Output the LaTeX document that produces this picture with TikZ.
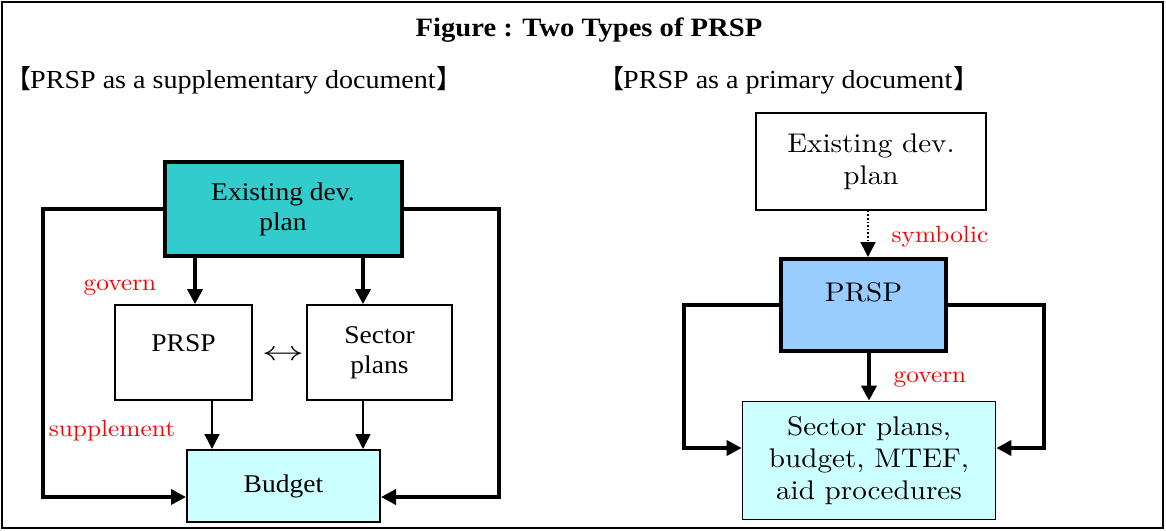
\documentclass[tikz,border=0pt]{standalone}
\usepackage{fontspec}
\setmainfont[FakeStretch=1.08]{Liberation Serif}
\newfontfamily\cent[FakeStretch=1.08,Extension=.otf]{lmroman10-regular}
\newfontfamily\cjk{Noto Sans CJK JP}
\usetikzlibrary{arrows.meta}
\definecolor{planteal}{HTML}{33CCCC}
\definecolor{paleblue}{HTML}{CCFFFF}
\definecolor{prspblue}{HTML}{99CCFF}
\newcommand*\tnr{\fontsize{25.5}{30}\selectfont}
\newcommand*\cnt{\cent\fontsize{27}{32}\selectfont}
\newcommand*\lbl{\cent\fontsize{23.5}{27}\selectfont}
\newcommand*\hdr{\fontsize{26}{30}\selectfont}
\newcommand*\lbr{{\cjk 【}\kern-1pt}
\newcommand*\rbr{\kern1pt{\cjk 】}}

\begin{document}
\begin{tikzpicture}[x=1pt,y=-1pt,
  box/.style={draw,inner sep=0pt,align=center,line width=1.7pt},
  thickbox/.style={draw,inner sep=0pt,align=center,line width=4pt},
  tip/.style={-{Triangle[length=15pt,width=15pt]}},
  heavy/.style={tip,line width=3.6pt},
  light/.style={tip,line width=1.6pt},
  redlbl/.style={text=red,font=\lbl}]
\useasboundingbox (0,0) rectangle (1166,530);
\draw[line width=1.5pt] (2,2) rectangle (1163,528);

\node[font=\bfseries\fontsize{26.5}{30}\selectfont] (title) at (589,30) {Figure : Two Types of PRSP};
\node[anchor=west,inner sep=0pt,font=\hdr] (head1) at (5,80) {\lbr PRSP as a supplementary document\rbr};
\node[anchor=west,inner sep=0pt,font=\hdr] (head2) at (598,80) {\lbr PRSP as a primary document\rbr};

% supplementary document
\node[thickbox,fill=planteal,minimum width=237pt,minimum height=94pt,font=\tnr] (plan1) at (283,209) {Existing dev.\\plan};
\node[box,minimum width=137pt,minimum height=95pt,font=\tnr,text height=17pt,text depth=20pt] (prsp1) at (183.5,352.5) {PRSP};
\node[box,minimum width=145pt,minimum height=95pt,font=\tnr] (sect1) at (379.5,352.5) {Sector\\plans};
\node[box,fill=paleblue,line width=2pt,minimum width=193pt,minimum height=72pt,font=\tnr] (budget) at (283.5,486) {Budget};
\node[font=\fontsize{24}{28}\selectfont] (both) at (283,355) {\scalebox{1.7}[1.1]{$\leftrightarrow$}};
\node[redlbl] (gov1) at (120,288) {govern};
\node[redlbl] (supp) at (112,431) {supplement};
\coordinate (lft1) at (43,0);
\coordinate (rgt1) at (499,0);

\draw[heavy] ([xshift=11.5pt]prsp1.north |- plan1.south) -- ([xshift=11.5pt]prsp1.north);
\draw[heavy] ([xshift=-16.5pt]sect1.north |- plan1.south) -- ([xshift=-16.5pt]sect1.north);
\draw[light] ([xshift=28.5pt]prsp1.south) -- ([xshift=28.5pt]prsp1.south |- budget.north);
\draw[light] ([xshift=-16.5pt]sect1.south) -- ([xshift=-16.5pt]sect1.south |- budget.north);
\draw[heavy] (plan1.west) -- (plan1.west -| lft1) |- ([yshift=-11pt]budget.west);
\draw[heavy] (plan1.east) -- (plan1.east -| rgt1) |- ([yshift=-11pt]budget.east);

% primary document
\node[box,fill=white,minimum width=230pt,minimum height=97pt,font=\cnt] (plan2) at (871,161.5) {Existing dev.\\plan};
\node[thickbox,fill=prspblue,minimum width=165pt,minimum height=92pt,font=\cnt,text height=17pt,text depth=24pt] (prsp2) at (863.5,305) {PRSP};
\node[box,fill=paleblue,minimum width=253pt,minimum height=118pt,font=\cnt] (sect2) at (869,460.5) {Sector plans,\\budget, MTEF,\\aid procedures};
\node[redlbl] (symb) at (940,237) {symbolic};
\node[redlbl] (gov2) at (930,380) {govern};
\coordinate (lft2) at (684,0);
\coordinate (rgt2) at (1044,0);

\draw[light,dotted] ([xshift=-3pt]plan2.south) -- ([xshift=-3pt]plan2.south |- prsp2.north);
\draw[heavy] (sect2.north |- prsp2.south) -- (sect2.north);
\draw[heavy] (prsp2.west) -- (prsp2.west -| lft2) |- ([yshift=12.5pt]sect2.west);
\draw[heavy] (prsp2.east) -- (prsp2.east -| rgt2) |- ([yshift=12.5pt]sect2.east);
\end{tikzpicture}
\end{document}
